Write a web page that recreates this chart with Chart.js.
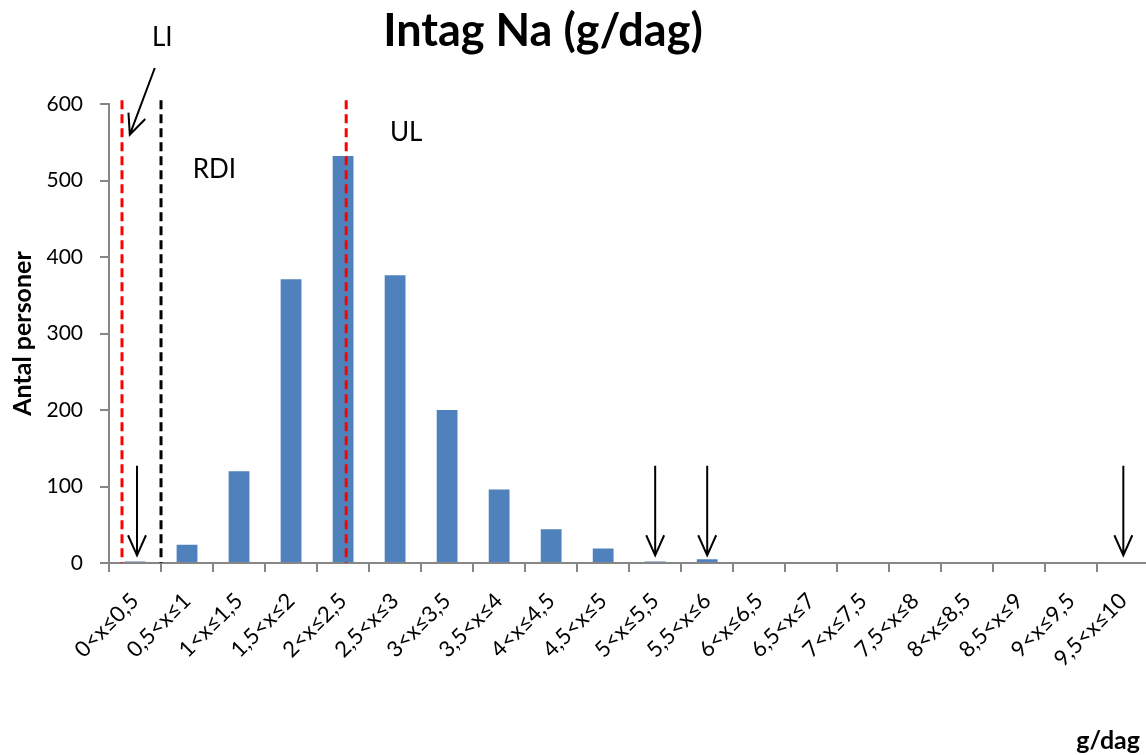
<!DOCTYPE html>
<html>
<head>
<meta charset="utf-8">
<script src="https://cdn.jsdelivr.net/npm/chart.js@4.4.1/dist/chart.umd.min.js"></script>
<style>
  html, body { margin: 0; padding: 0; background: #fff; overflow: hidden; }
  #wrap { width: 1146px; height: 755px; overflow: hidden; position: relative; }
  canvas { display: block; }
</style>
</head>
<body>
<div id="wrap"><canvas id="chart" width="1158" height="755"></canvas></div>
<script>
const categories = ['0<x≤0,5', '0,5<x≤1', '1<x≤1,5', '1,5<x≤2', '2<x≤2,5', '2,5<x≤3', '3<x≤3,5',
  '3,5<x≤4', '4<x≤4,5', '4,5<x≤5', '5<x≤5,5', '5,5<x≤6', '6<x≤6,5', '6,5<x≤7', '7<x≤7,5',
  '7,5<x≤8', '8<x≤8,5', '8,5<x≤9', '9<x≤9,5', '9,5<x≤10'];
const antalPersoner = [2, 24, 120, 371, 532, 376, 200, 96, 44, 19, 2, 5, 0, 0, 0, 0, 0, 0, 0, 0];
const yTicks = [0, 100, 200, 300, 400, 500, 600];

// reference lines, position in category units (0 = centre of first bin)
const refLines = [
  { at: -0.25, color: '#ff0000' },   // LI
  { at: 0.5, color: '#000000' },     // RDI
  { at: 4.06, color: '#ff0000' }     // UL
];
// bins pointed at by the small down arrows
const arrowBins = [0, 10, 11, 19];

const FONT = 'Lato';

const annotations = {
  id: 'annotations',
  afterDatasetsDraw(chart) {
    const { ctx, scales: { x, y } } = chart;
    const cw = x.getPixelForValue(1) - x.getPixelForValue(0);
    const px = v => x.getPixelForValue(0) + v * cw;
    ctx.save();

    // dashed reference lines
    ctx.lineWidth = 3;
    ctx.setLineDash([9, 5]);
    refLines.forEach(l => {
      ctx.strokeStyle = l.color;
      ctx.beginPath();
      ctx.moveTo(px(l.at), y.getPixelForValue(605));
      ctx.lineTo(px(l.at), y.getPixelForValue(0));
      ctx.stroke();
    });
    ctx.setLineDash([]);

    // arrows
    ctx.strokeStyle = '#000';
    ctx.lineWidth = 2;
    function arrow(x1, y1, x2, y2) {
      const a = Math.atan2(y2 - y1, x2 - x1);
      const h = 22, s = 0.42;
      ctx.beginPath();
      ctx.moveTo(x1, y1);
      ctx.lineTo(x2, y2);
      ctx.moveTo(x2 - h * Math.cos(a - s), y2 - h * Math.sin(a - s));
      ctx.lineTo(x2, y2);
      ctx.lineTo(x2 - h * Math.cos(a + s), y2 - h * Math.sin(a + s));
      ctx.stroke();
    }
    arrowBins.forEach(i => {
      const xx = x.getPixelForValue(i) + (i === 0 ? 2 : 0);
      arrow(xx, y.getPixelForValue(127), xx, y.getPixelForValue(10));
    });
    arrow(px(0.38), 68, px(-0.1), y.getPixelForValue(560));

    // texts
    ctx.fillStyle = '#000';
    ctx.textBaseline = 'alphabetic';
    ctx.textAlign = 'left';
    ctx.font = '26px ' + FONT;
    ctx.fillText('LI', 152, 46);
    ctx.fillText('RDI', px(1.11), 178);
    ctx.fillText('UL', px(4.9), 141);

    ctx.font = 'bold 45px ' + FONT;
    ctx.textAlign = 'center';
    ctx.fillText('Intag Na (g/dag)', 543, 46);

    ctx.font = 'bold 25px ' + FONT;
    ctx.textAlign = 'right';
    ctx.fillText('g/dag', 1140, 749);
    ctx.restore();
  }
};

new Chart(document.getElementById('chart'), {
  type: 'bar',
  data: {
    labels: categories,
    datasets: [{
      data: antalPersoner,
      backgroundColor: '#4f81bd',
      borderColor: '#4f81bd',
      borderWidth: 0,
      barPercentage: 0.4,
      categoryPercentage: 1
    }]
  },
  options: {
    responsive: false,
    animation: false,
    layout: { padding: { top: 104, right: 0, left: 0, bottom: 0 } },
    plugins: { legend: { display: false }, tooltip: { enabled: false }, title: { display: false } },
    scales: {
      x: {
        offset: true,
        grid: { offset: true, drawOnChartArea: false, drawTicks: true, tickLength: 9, color: '#868686', lineWidth: 2 },
        border: { color: '#868686', width: 2 },
        ticks: { color: '#000', font: { family: FONT, size: 22 }, minRotation: 45, maxRotation: 45, autoSkip: false, padding: 16 },
        afterFit(scale) { scale.height = 192; }
      },
      y: {
        min: 0, max: 600,
        afterBuildTicks(scale) { scale.ticks = yTicks.map(v => ({ value: v })); },
        grid: { drawOnChartArea: false, drawTicks: true, tickLength: 9, color: '#868686', lineWidth: 2 },
        border: { color: '#868686', width: 2 },
        ticks: { color: '#000', font: { family: FONT, size: 21 }, padding: 17 },
        title: { display: true, text: 'Antal personer', color: '#000', font: { family: FONT, size: 25, weight: 'bold' }, padding: { top: 8, bottom: 0 } },
        afterFit(scale) { scale.width = 109; }
      }
    }
  },
  plugins: [annotations]
});
</script>
</body>
</html>
